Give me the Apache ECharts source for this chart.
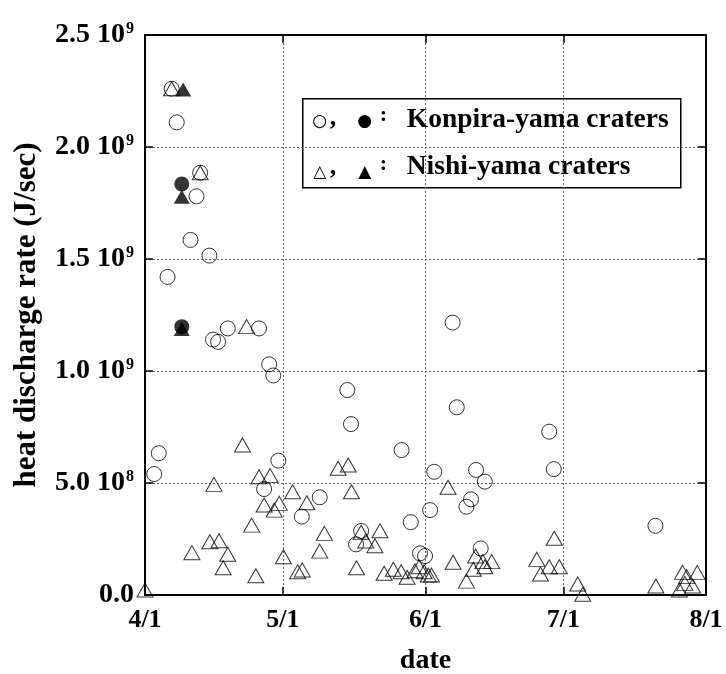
<!DOCTYPE html>
<html>
<head>
<meta charset="utf-8">
<script src="https://cdn.jsdelivr.net/npm/echarts@6/dist/echarts.min.js"></script>
<style>html,body{margin:0;padding:0;background:#fff}#c{width:726px;height:674px}</style>
</head>
<body>
<div id="c"></div>
<script>
// ---- data (day offsets counted from 4/1, values in J/sec) ----
const startDate = '2000-04-01';
const endDate = '2000-08-01';
const xTickLabels = ['4/1', '5/1', '6/1', '7/1', '8/1'];

const konpiraOpenDay = [5.8, 6.9, 12.0, 11.2, 9.9, 14.0, 4.9, 18.0, 14.8, 15.9, 24.8, 27.0, 27.9, 3.0, 2.0, 29.0, 25.9, 38.0, 34.1, 66.9, 44.0, 67.8, 44.8, 55.8, 62.9, 72.0, 73.9, 62.0, 70.9, 69.9, 57.8, 47.0, 45.9, 73.0, 59.8, 60.9, 87.9, 88.9, 111.0];
const konpiraOpenVal = [2.26e9, 2.11e9, 1.885e9, 1.78e9, 1.585e9, 1.515e9, 1.42e9, 1.19e9, 1.14e9, 1.13e9, 1.19e9, 1.03e9, 0.98e9, 6.33e8, 5.4e8, 6.0e8, 4.73e8, 4.36e8, 3.5e8, 1.216e9, 9.15e8, 8.38e8, 7.63e8, 6.47e8, 5.5e8, 5.58e8, 5.06e8, 3.79e8, 4.27e8, 3.94e8, 3.25e8, 2.86e8, 2.26e8, 2.08e8, 1.86e8, 1.74e8, 7.29e8, 5.62e8, 3.09e8];

const konpiraFilledDay = [8.0, 8.0];
const konpiraFilledVal = [1.835e9, 1.198e9];

const nishiFilledDay = [8.3, 8.0, 8.0];
const nishiFilledVal = [2.257e9, 1.778e9, 1.187e9];

const nishiOpenDay = [5.8, 12.0, 22.1, 21.2, 24.8, 27.2, 15.0, 32.1, 25.9, 29.2, 28.1, 35.2, 42.0, 44.2, 23.2, 14.1, 16.1, 10.2, 18.0, 17.0, 30.1, 39.0, 38.0, 33.2, 34.2, 24.1, 0.0, 44.9, 65.9, 47.0, 51.1, 48.0, 50.0, 46.0, 67.0, 71.9, 73.5, 75.4, 73.9, 71.4, 69.9, 52.0, 54.0, 55.7, 57.0, 58.7, 59.6, 60.7, 61.6, 62.3, 89.0, 85.2, 87.9, 90.1, 86.0, 94.1, 95.2, 111.1, 116.9, 117.8, 120.1, 119.1, 116.2, 117.4];
const nishiOpenVal = [2.26e9, 1.885e9, 1.198e9, 6.7e8, 5.28e8, 5.33e8, 4.94e8, 4.61e8, 4.02e8, 4.09e8, 3.79e8, 4.12e8, 5.66e8, 5.8e8, 3.12e8, 2.38e8, 2.42e8, 1.89e8, 1.82e8, 1.22e8, 1.71e8, 2.75e8, 1.96e8, 1.04e8, 1.12e8, 8.6e7, 2.2e7, 4.61e8, 4.81e8, 2.8e8, 2.87e8, 2.41e8, 2.2e8, 1.22e8, 1.46e8, 1.74e8, 1.49e8, 1.49e8, 1.26e8, 1.15e8, 6.2e7, 9.7e7, 1.15e8, 1.04e8, 7.9e7, 1.08e8, 1.26e8, 1.04e8, 8.9e7, 8.9e7, 2.53e8, 1.59e8, 1.26e8, 1.26e8, 9.4e7, 4.9e7, 3e6, 4.0e7, 1.01e8, 8.2e7, 1.0e8, 4.0e7, 2.2e7, 5.2e7];

const yMin = 0, yMax = 2.5e9, yStep = 5e8;
const legendLabels = ['Konpira-yama craters', 'Nishi-yama craters'];
const xTitle = 'date';
const yTitle = 'heat discharge rate (J/sec)';

// ---- build ----
const DAY = 86400000;
const base = Date.parse(startDate + 'T00:00:00Z');
const endTs = Date.parse(endDate + 'T00:00:00Z');
const pts = (days, vals) => days.map((d, i) => [base + d * DAY, vals[i]]);

const SERIF = '"Liberation Serif", "Times New Roman", serif';
const FS = 26;

function yFmt(v) {
  if (v === 0) return '{m|0.0}';
  const e = Math.floor(Math.log10(v) + 1e-9);
  const m = (v / Math.pow(10, e)).toFixed(1);
  return '{m|' + m + ' 10}{e|' + e + '}';
}
function xFmt(v) {
  const d = new Date(v);
  return (d.getUTCMonth() + 1) + '/' + d.getUTCDate();
}

const splitStyle = { show: true, lineStyle: { color: '#666', width: 1, type: [2, 2] } };
const lineStyle = { lineStyle: { color: '#000', width: 2 } };
const tickStyle = { show: true, inside: true, length: 8, lineStyle: { color: '#000', width: 1.5 } };

const chart = echarts.init(document.getElementById('c'), null, { renderer: 'canvas' });
const option = {
  useUTC: true,
  animation: false,
  backgroundColor: '#fff',
  grid: { left: 145, right: 20, top: 35, bottom: 79, containLabel: false, outerBoundsMode: 'none' },
  xAxis: [
    {
      type: 'time', min: base, max: endTs, position: 'bottom',
      minInterval: 28 * DAY,
      axisLine: Object.assign({ show: true, onZero: false }, lineStyle),
      axisTick: tickStyle,
      splitLine: splitStyle,
      axisLabel: { formatter: xFmt, color: '#000', fontFamily: SERIF, fontWeight: 'bold', fontSize: FS, margin: 12, showMinLabel: true, showMaxLabel: true, hideOverlap: false },
      name: xTitle, nameLocation: 'middle', nameGap: 52,
      nameTextStyle: { color: '#000', fontFamily: SERIF, fontWeight: 'bold', fontSize: 28 }
    },
    {
      type: 'time', min: base, max: endTs, position: 'top',
      minInterval: 28 * DAY,
      axisLine: Object.assign({ show: true, onZero: false }, lineStyle),
      axisTick: tickStyle, splitLine: { show: false }, axisLabel: { show: false }
    }
  ],
  yAxis: [
    {
      type: 'value', min: yMin, max: yMax, interval: yStep, position: 'left',
      axisLine: Object.assign({ show: true, onZero: false }, lineStyle),
      axisTick: tickStyle,
      splitLine: splitStyle,
      axisLabel: {
        formatter: yFmt, margin: 11,
        rich: {
          m: { color: '#000', fontFamily: SERIF, fontWeight: 'bold', fontSize: 28 },
          e: { color: '#000', fontFamily: SERIF, fontWeight: 'bold', fontSize: 16, verticalAlign: 'top', padding: [0, 0, 0, 1] }
        }
      },
      name: yTitle, nameLocation: 'middle', nameGap: 103, nameRotate: 90,
      nameTextStyle: { color: '#000', fontFamily: SERIF, fontWeight: 'bold', fontSize: 31 }
    },
    {
      type: 'value', min: yMin, max: yMax, interval: yStep, position: 'right',
      axisLine: Object.assign({ show: true, onZero: false }, lineStyle),
      axisTick: tickStyle, splitLine: { show: false }, axisLabel: { show: false }
    }
  ],
  series: [
    {
      name: 'Nishi-yama (open)', type: 'scatter', symbol: 'triangle', symbolSize: [16, 14], clip: false,
      itemStyle: { color: 'rgba(255,255,255,0)', borderColor: '#000', borderWidth: 1 },
      emphasis: { disabled: true }, data: pts(nishiOpenDay, nishiOpenVal)
    },
    {
      name: 'Konpira-yama (open)', type: 'scatter', symbol: 'circle', symbolSize: 15, clip: false,
      itemStyle: { color: 'rgba(255,255,255,0)', borderColor: '#000', borderWidth: 1 },
      emphasis: { disabled: true }, data: pts(konpiraOpenDay, konpiraOpenVal)
    },
    {
      name: 'Konpira-yama (filled)', type: 'scatter', symbol: 'circle', symbolSize: 15, clip: false,
      itemStyle: { color: '#000' }, emphasis: { disabled: true },
      data: pts(konpiraFilledDay, konpiraFilledVal)
    },
    {
      name: 'Nishi-yama (filled)', type: 'scatter', symbol: 'triangle', symbolSize: [16, 14], clip: false,
      itemStyle: { color: '#000' }, emphasis: { disabled: true },
      data: pts(nishiFilledDay, nishiFilledVal)
    }
  ],
  graphic: [
    {
      type: 'group', left: 302, top: 98, z: 100,
      children: [
        { type: 'rect', shape: { x: 0, y: 0, width: 378, height: 89 }, style: { fill: '#fff', stroke: '#000', lineWidth: 1.5 } },
        { type: 'text', x: 17, y: 23, style: { text: '○', font: '17px "DejaVu Sans"', fill: '#000', align: 'center', verticalAlign: 'middle' } },
        { type: 'text', x: 27, y: 20, style: { text: ',', font: 'bold 26px ' + SERIF, fill: '#000', align: 'left', verticalAlign: 'middle' } },
        { type: 'text', x: 62, y: 23, style: { text: '●', font: '17px "DejaVu Sans"', fill: '#000', align: 'center', verticalAlign: 'middle' } },
        { type: 'text', x: 77, y: 17, style: { text: ':', font: 'bold 22px ' + SERIF, fill: '#000', align: 'left', verticalAlign: 'middle' } },
        { type: 'text', x: 104, y: 21, style: { text: legendLabels[0], font: 'bold 27.5px ' + SERIF, fill: '#000', align: 'left', verticalAlign: 'middle' } },
        { type: 'text', x: 17, y: 74, style: { text: '△', font: '17px "DejaVu Sans"', fill: '#000', align: 'center', verticalAlign: 'middle' } },
        { type: 'text', x: 27, y: 69, style: { text: ',', font: 'bold 26px ' + SERIF, fill: '#000', align: 'left', verticalAlign: 'middle' } },
        { type: 'text', x: 62, y: 74, style: { text: '▲', font: '17px "DejaVu Sans"', fill: '#000', align: 'center', verticalAlign: 'middle' } },
        { type: 'text', x: 77, y: 66, style: { text: ':', font: 'bold 22px ' + SERIF, fill: '#000', align: 'left', verticalAlign: 'middle' } },
        { type: 'text', x: 104, y: 68, style: { text: legendLabels[1], font: 'bold 27.5px ' + SERIF, fill: '#000', align: 'left', verticalAlign: 'middle' } }
      ]
    }
  ]
};
chart.setOption(option);
</script>
</body>
</html>
